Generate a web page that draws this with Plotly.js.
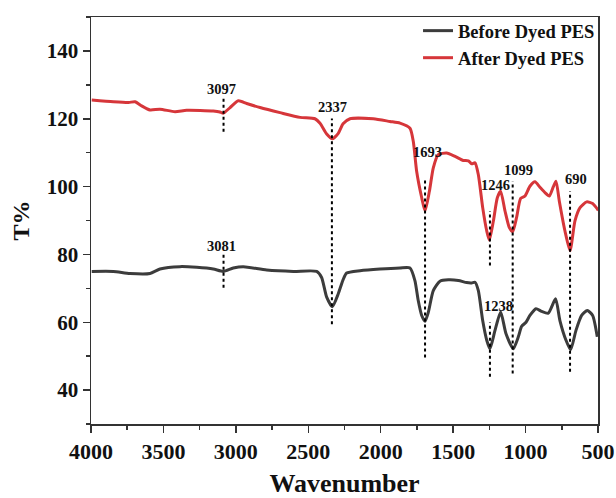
<!DOCTYPE html>
<html>
<head>
<meta charset="utf-8">
<script src="https://cdn.plot.ly/plotly-3.0.1.min.js"></script>
<style>html,body{margin:0;padding:0;background:#fff;}#chart{width:616px;height:498px;}</style>
</head>
<body>
<div id="chart"></div>
<script>
// ---- data ----
const afterWn = [3995,3846,3740,3696,3650,3593,3524,3420,3340,3156,3110,3087,3040,2983,2925,2833,2695,2557,2454,2419,2373,2334,2293,2260,2212,2051,1936,1867,1798,1775,1752,1717,1694,1664,1637,1603,1545,1487,1430,1395,1372,1349,1326,1296,1268,1250,1222,1195,1172,1142,1112,1089,1062,1034,1004,970,935,901,866,836,809,790,767,728,693,659,624,578,537,498];
const afterT  = [125.5,125.0,124.8,125.0,123.8,122.6,122.8,122.1,122.5,122.3,122.0,121.6,123.3,125.3,124.5,123.3,121.8,120.4,120.0,118.7,115.5,114.1,115.7,118.5,120.0,120.0,119.2,118.7,117.2,113.3,104.5,96.7,92.8,98.6,105.5,109.4,109.9,108.9,107.7,107.6,106.7,107.0,103.5,93.8,86.9,84.2,89.9,96.7,98.6,92.8,87.9,86.7,90.9,96.5,97.2,100.1,101.4,99.8,98.2,97.2,99.9,101.6,95.7,86.9,81.1,89.9,93.8,95.5,95.0,93.0];

const beforeWn = [3995,3846,3731,3593,3524,3386,3270,3156,3087,3018,2949,2787,2603,2442,2408,2373,2334,2293,2260,2235,2143,2005,1867,1798,1764,1741,1717,1694,1671,1637,1591,1533,1464,1407,1372,1349,1326,1296,1268,1246,1211,1172,1135,1085,1050,1027,997,970,928,889,843,793,763,721,689,652,613,574,537,505];
const beforeT  = [75.0,75.0,74.4,74.4,75.7,76.4,76.2,75.7,75.0,76.0,76.4,75.4,75.0,75.0,73.2,67.4,64.6,68.4,72.5,74.5,75.2,75.7,76.0,76.0,72.3,66.4,62.0,60.3,63.0,69.3,72.1,72.5,72.3,71.7,71.6,71.8,69.3,60.5,54.7,52.2,57.6,63.0,56.6,52.2,55.7,58.8,60.0,62.0,64.0,63.2,62.7,66.9,60.5,54.7,51.9,57.6,62.0,63.5,62.0,55.7];

const seriesNames = ["Before Dyed PES", "After Dyed PES"];

// peak labels
const peakText = ["3097","2337","1693","1246","1099","690","3081","1238"];
const peakLabelX = [3096,2330,1674,1211,1046,652,3096,1190];
const peakLabelY = [128.9,123.4,110.2,100.4,105.0,102.3,82.5,64.9];

// dotted marker lines
const markX  = [3085,2337,1694,1246,1246,1089,693,3085];
const markY0 = [116.2,59.4,49.6,76.7,43.9,44.9,45.4,70.2];
const markY1 = [126.8,120.1,102.5,92.8,60.0,101.6,98.6,80.5];

// tick labels
const xTicks = [4000,3500,3000,2500,2000,1500,1000,500];
const yTicks = [40,60,80,100,120,140];

const FONT = "Liberation Serif, Times New Roman, serif";

const traces = [
  {x: beforeWn, y: beforeT, name: seriesNames[0], type: "scatter", mode: "lines",
   line: {color: "#3c3c3c", width: 3, shape: "spline", smoothing: 0.6}},
  {x: afterWn, y: afterT, name: seriesNames[1], type: "scatter", mode: "lines",
   line: {color: "#d6363a", width: 3, shape: "spline", smoothing: 0.6}}
];

const shapes = markX.map((x, i) => ({
  type: "line", xref: "x", yref: "y", x0: x, x1: x, y0: markY0[i], y1: markY1[i],
  line: {color: "#000", width: 2, dash: "dot"}
}));

const annotations = peakText.map((t, i) => ({
  x: peakLabelX[i], y: peakLabelY[i], xref: "x", yref: "y", text: t, showarrow: false,
  font: {family: FONT, size: 14.5, color: "#111", weight: "bold"}
}));

const layout = {
  width: 616, height: 498,
  margin: {l: 91, r: 18, t: 14, b: 74},
  paper_bgcolor: "#fff", plot_bgcolor: "#fff",
  showlegend: true,
  legend: {x: 1.004, xanchor: "right", y: 1.012, yanchor: "top", bgcolor: "rgba(0,0,0,0)",
           font: {family: FONT, size: 18.5, color: "#111", weight: "bold"}, tracegroupgap: 0},
  xaxis: {
    range: [4000, 500], tickvals: xTicks, ticktext: xTicks.map(String),
    ticks: "outside", ticklen: 7, tickwidth: 1.5, tickcolor: "#333",
    minor: {dtick: 250, tick0: 0, ticks: "outside", ticklen: 4, tickwidth: 1.5, tickcolor: "#333"},
    showline: true, linecolor: "#333", linewidth: 1.5, mirror: true,
    showgrid: false, zeroline: false,
    tickfont: {family: FONT, size: 22, color: "#111", weight: "bold"},
    title: {text: "Wavenumber", font: {family: FONT, size: 26, color: "#111", weight: "bold"}, standoff: 14},
    automargin: false
  },
  yaxis: {
    range: [30, 150], tickvals: yTicks, ticktext: yTicks.map(String),
    ticks: "outside", ticklen: 7, tickwidth: 1.5, tickcolor: "#333",
    minor: {dtick: 10, tick0: 0, ticks: "outside", ticklen: 4, tickwidth: 1.5, tickcolor: "#333"},
    showline: true, linecolor: "#333", linewidth: 1.5, mirror: true,
    showgrid: false, zeroline: false,
    tickfont: {family: FONT, size: 21, color: "#111", weight: "bold"},
    title: {text: "T%", font: {family: FONT, size: 24, color: "#111", weight: "bold"}, standoff: 10},
    automargin: false
  },
  shapes: shapes,
  annotations: annotations
};

Plotly.newPlot("chart", traces, layout, {displayModeBar: false, staticPlot: true});
</script>
</body>
</html>
